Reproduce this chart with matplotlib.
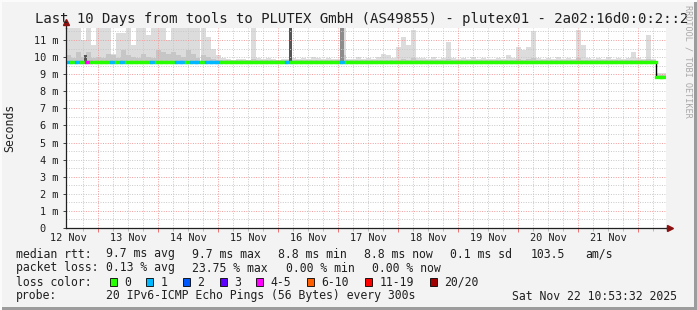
import numpy as np
import matplotlib
matplotlib.use('Agg')
import matplotlib.pyplot as plt
import matplotlib.transforms as mtransforms
from matplotlib.patches import Rectangle

plt.rcParams['font.family'] = ['DejaVu Sans Mono']

W, H = 697, 310

# time in hours since 12 Nov 00:00, one bin = 2 h
t_start = 10.88
t_end = 250.88
bin_h = 2.0

# outer smoke (light gray), ms
smoke_hi = [
    11.7, 11.7, 11.7, 11.0, 11.7, 10.7, 11.7, 11.7, 11.7, 10.2,
    11.4, 11.4, 11.7, 10.7, 11.7, 11.7, 11.3, 11.7, 11.7, 11.7,
    11.0, 11.7, 11.7, 11.7, 11.7, 11.7, 11.7, 11.7, 11.2, 10.5,
    10.1, 9.95, 9.9, 9.85, 9.9, 9.9, 9.85, 11.7, 9.95, 9.9,
    9.95, 9.9, 9.85, 9.9, 9.9, 9.95, 9.9, 9.95, 9.9, 10.0,
    9.95, 9.9, 9.95, 9.9, 9.9, 11.7, 9.9, 9.9, 10.0, 9.9,
    9.95, 9.9, 10.0, 10.2, 10.1, 9.95, 10.6, 11.2, 10.7, 11.6,
    9.95, 9.95, 9.9, 10.0, 9.9, 9.95, 10.9, 9.95, 9.9, 9.95,
    9.9, 10.0, 9.9, 9.95, 9.9, 9.9, 9.95, 9.9, 10.1, 9.95,
    10.6, 10.4, 10.6, 11.5, 9.95, 9.9, 9.95, 9.9, 10.0, 9.9,
    9.95, 9.9, 11.6, 10.7, 9.95, 9.9, 9.95, 9.9, 10.0, 9.9,
    9.95, 9.9, 9.95, 10.3, 9.95, 9.9, 11.3, 9.9, 9.05, 9.05,
]

# inner smoke (darker gray), ms
smoke_mid = [
    10.1, 9.95, 10.3, 10.0, 10.3, 9.95, 10.0, 9.95, 10.2, 10.1,
    9.95, 10.4, 10.1, 10.0, 9.95, 10.2, 10.0, 9.95, 10.4, 10.3,
    10.2, 10.3, 10.1, 10.0, 10.4, 10.2, 9.95, 10.1, 10.0, 9.9,
    9.85, 9.82, 9.8, 9.8, 9.8, 9.8, 9.8, 9.9, 9.8, 9.8,
    9.8, 9.8, 9.8, 9.8, 9.8, 9.82, 9.8, 9.82, 9.8, 9.82,
    9.8, 9.8, 9.8, 9.8, 9.8, 10.1, 9.8, 9.8, 9.82, 9.8,
    9.8, 9.8, 9.82, 9.85, 9.82, 9.8, 9.85, 9.9, 9.85, 9.95,
    9.8, 9.8, 9.8, 9.82, 9.8, 9.8, 9.9, 9.8, 9.8, 9.8,
    9.8, 9.82, 9.8, 9.8, 9.8, 9.8, 9.8, 9.8, 9.82, 9.8,
    9.9, 9.85, 9.9, 9.95, 9.8, 9.8, 9.8, 9.8, 9.82, 9.8,
    9.8, 9.8, 9.95, 9.85, 9.8, 9.8, 9.8, 9.8, 9.82, 9.8,
    9.8, 9.8, 9.8, 9.85, 9.8, 9.8, 9.9, 9.8, 8.95, 8.95,
]

# median rtt, ms
median = [
    9.70, 9.69, 9.70, 9.69, 9.69, 9.70, 9.70, 9.69, 9.70, 9.69,
    9.70, 9.69, 9.70, 9.70, 9.69, 9.70, 9.69, 9.70, 9.69, 9.70,
    9.70, 9.69, 9.70, 9.69, 9.70, 9.69, 9.70, 9.69, 9.70, 9.70,
    9.69, 9.70, 9.70, 9.70, 9.70, 9.70, 9.70, 9.70, 9.70, 9.70,
    9.70, 9.70, 9.70, 9.70, 9.70, 9.70, 9.70, 9.70, 9.70, 9.70,
    9.70, 9.70, 9.70, 9.70, 9.70, 9.70, 9.70, 9.70, 9.70, 9.70,
    9.70, 9.70, 9.70, 9.70, 9.70, 9.70, 9.70, 9.70, 9.70, 9.70,
    9.70, 9.70, 9.70, 9.70, 9.70, 9.70, 9.70, 9.70, 9.70, 9.70,
    9.70, 9.70, 9.70, 9.70, 9.70, 9.70, 9.70, 9.70, 9.70, 9.70,
    9.70, 9.70, 9.70, 9.70, 9.70, 9.70, 9.70, 9.70, 9.70, 9.70,
    9.70, 9.70, 9.70, 9.70, 9.70, 9.70, 9.70, 9.70, 9.70, 9.70,
    9.70, 9.70, 9.70, 9.70, 9.70, 9.70, 9.70, 9.70, 8.85, 8.85,
]

# loss class index per bin (0 -> "0", 1 -> "1", 4 -> "4-5")
loss_idx = [
    1, 0, 1, 0, 4, 0, 0, 0, 0, 1,
    0, 1, 0, 0, 0, 0, 0, 1, 0, 0,
    0, 0, 1, 1, 0, 1, 1, 0, 1, 1,
    1, 0, 0, 0, 0, 0, 0, 0, 0, 0,
    0, 0, 0, 0, 1, 0, 0, 0, 0, 0,
    0, 0, 0, 0, 0, 1, 0, 0, 0, 0,
    0, 0, 0, 0, 0, 0, 0, 0, 0, 0,
    0, 0, 0, 0, 0, 0, 0, 0, 0, 0,
    0, 0, 0, 0, 0, 0, 0, 0, 0, 0,
    0, 0, 0, 0, 0, 0, 0, 0, 0, 0,
    0, 0, 0, 0, 0, 0, 0, 0, 0, 0,
    0, 0, 0, 0, 0, 0, 0, 0, 0, 0,
]

# dark smoke spikes (high loss periods)
spike_t = [18.9, 100.9, 121.5]
spike_top = [10.1, 11.7, 11.7]
spike_col = ['#555555', '#555555', '#8c8c8c']

loss_labels = ['0', '1', '2', '3', '4-5', '6-10', '11-19', '20/20']
loss_colors = ['#26ff00', '#00b8ff', '#0059ff', '#5e00ff', '#ff00ff',
               '#ff5e00', '#ff0000', '#a10000']

day_labels = ['12 Nov', '13 Nov', '14 Nov', '15 Nov', '16 Nov', '17 Nov',
              '18 Nov', '19 Nov', '20 Nov', '21 Nov']

fig = plt.figure(figsize=(W / 100, H / 100), dpi=100)
fig.patch.set_facecolor('#f3f3f3')

ax = fig.add_axes([65.5 / W, (H - 228) / H, 600 / W, 200 / H])
ax.set_facecolor('white')
ax.set_xlim(t_start, t_end)
ax.set_ylim(0, 11.7)

n = len(median)
tc = t_start + bin_h / 2 + bin_h * np.arange(n)
med = np.array(median)
lo = med - 0.08

# smoke
ax.bar(tc, np.array(smoke_hi) - lo, bottom=lo, width=bin_h,
       color='#dcdcdc', linewidth=0, zorder=1)
ax.bar(tc, np.array(smoke_mid) - lo, bottom=lo, width=bin_h,
       color='#c6c6c6', linewidth=0, zorder=1.1)
ax.bar(spike_t, np.array(spike_top) - 9.75, bottom=9.75, width=1.3,
       color=spike_col, linewidth=0, zorder=1.2)

# grid (drawn over the smoke like rrdtool)
for h in np.arange(18, t_end, 6):
    if h % 24 == 0:
        continue
    ax.axvline(h, color='#c8c8c8', lw=0.7, ls=(0, (1, 1.5)), zorder=2)
for h in np.arange(24, t_end, 24):
    ax.axvline(h, color='#f29a9a', lw=0.7, ls=(0, (1, 1.5)), zorder=2.1)
for v in np.arange(0.5, 11.7, 0.5):
    odd = abs(v - round(v)) < 1e-6 and int(round(v)) % 2 == 1
    ax.axhline(v, color='#f29a9a' if odd else '#c8c8c8', lw=0.7,
               ls=(0, (1, 1.5)), zorder=2.1 if odd else 2)

# median line coloured by loss
edges = t_start + bin_h * np.arange(n + 1)
ax.step(edges, np.append(med, med[-1]), where='post', color='black',
        lw=1.0, zorder=3)
ax.hlines(med, edges[:-1], edges[1:], colors=[loss_colors[i] for i in loss_idx],
          lw=2.4, zorder=4, capstyle='projecting')

# axes styling
for s in ['top', 'right']:
    ax.spines[s].set_visible(False)
for s in ['left', 'bottom']:
    ax.spines[s].set_color('#202020')
    ax.spines[s].set_linewidth(0.9)
    ax.spines[s].set_zorder(5)

ax.plot([0, 0], [1, 1.03], transform=ax.transAxes, color='#202020',
        lw=0.9, clip_on=False, zorder=5)
ax.plot([0], [1.03], marker='^', ms=5, color='#8b1010', transform=ax.transAxes,
        clip_on=False, zorder=6)
ax.plot([1, 1.008], [0, 0], transform=ax.transAxes, color='#202020',
        lw=0.9, clip_on=False, zorder=5)
ax.plot([1.008], [0], marker='>', ms=5, color='#8b1010', transform=ax.transAxes,
        clip_on=False, zorder=6)

ax.set_yticks(range(12))
ax.set_yticklabels(['0  '] + ['%d m' % i for i in range(1, 12)])
ax.tick_params(axis='y', length=2, width=0.7, color='#404040', pad=3,
               labelsize=7.4, labelcolor='#202020')

ax.set_xticks(np.arange(24, t_end, 24))
ax.set_xticks(np.arange(18, t_end, 6), minor=True)
ax.set_xticklabels([])
ax.tick_params(axis='x', which='major', length=3, width=0.7, color='#f07070')
ax.tick_params(axis='x', which='minor', length=2, width=0.6, color='#b0b0b0')

trans = mtransforms.blended_transform_factory(ax.transData, ax.transAxes)
for k, lab in enumerate(day_labels):
    ax.text(12 + 24 * k, -0.05, lab, transform=trans, ha='center', va='center',
            fontsize=7.4, color='#202020')

# texts
fig.text(361.5 / W, 1 - 19 / H,
         'Last 10 Days from tools to PLUTEX GmbH (AS49855) - plutex01 - 2a02:16d0:0:2::2',
         ha='center', va='center', fontsize=10.05, color='#202020')
fig.text(10 / W, 1 - 128 / H, 'Seconds', rotation=90, ha='center', va='center',
         fontsize=8.3, color='#202020')
fig.text(688 / W, 1 - 5 / H, 'RRDTOOL / TOBI OETIKER', rotation=270,
         ha='center', va='top', fontsize=6.1, color='#a8a8a8')

fs = 8.3
rows = [
    (254, [(16, 'median rtt:'), (106.5, '9.7 ms avg'), (192.5, '9.7 ms max'),
           (278.5, '8.8 ms min'), (364.5, '8.8 ms now'), (450.5, '0.1 ms sd'),
           (530.5, '103.5'), (585.5, 'am/s')]),
    (268, [(16, 'packet loss:'), (106.5, '0.13 % avg'), (192.5, '23.75 % max'),
           (286, '0.00 % min'), (371.5, '0.00 % now')]),
    (296, [(16, 'probe:'), (106.5, '20 IPv6-ICMP Echo Pings (56 Bytes) every 300s'),
           (512.5, 'Sat Nov 22 10:53:32 2025')]),
]
for y, parts in rows:
    for x, s in parts:
        fig.text(x / W, 1 - y / H, s, ha='left', va='center', fontsize=fs,
                 color='#202020')

fig.text(16 / W, 1 - 282 / H, 'loss color:', ha='left', va='center',
         fontsize=fs, color='#202020')
box_x = [109.5, 146, 183, 219.5, 256, 307, 365, 430]
for bx, lab, col in zip(box_x, loss_labels, loss_colors):
    fig.add_artist(Rectangle((bx / W, 1 - 286 / H), 7 / W, 8 / H,
                             transform=fig.transFigure, facecolor=col,
                             edgecolor='black', lw=0.6))
    fig.text((bx + 14.5) / W, 1 - 282 / H, lab, ha='left', va='center',
             fontsize=fs, color='#202020')

# 3d frame
fig.add_artist(Rectangle((0, 0), 1, 3 / H, transform=fig.transFigure,
                         facecolor='#9c9c9c', edgecolor='none'))
fig.add_artist(Rectangle((1 - 3 / W, 0), 3 / W, 1, transform=fig.transFigure,
                         facecolor='#9c9c9c', edgecolor='none'))
fig.add_artist(Rectangle((0, 1 - 2 / H), 1, 2 / H, transform=fig.transFigure,
                         facecolor='#fbfbfb', edgecolor='none'))
fig.add_artist(Rectangle((0, 0), 2 / W, 1, transform=fig.transFigure,
                         facecolor='#fbfbfb', edgecolor='none'))

fig.savefig('out.png', dpi=100, facecolor=fig.get_facecolor())
